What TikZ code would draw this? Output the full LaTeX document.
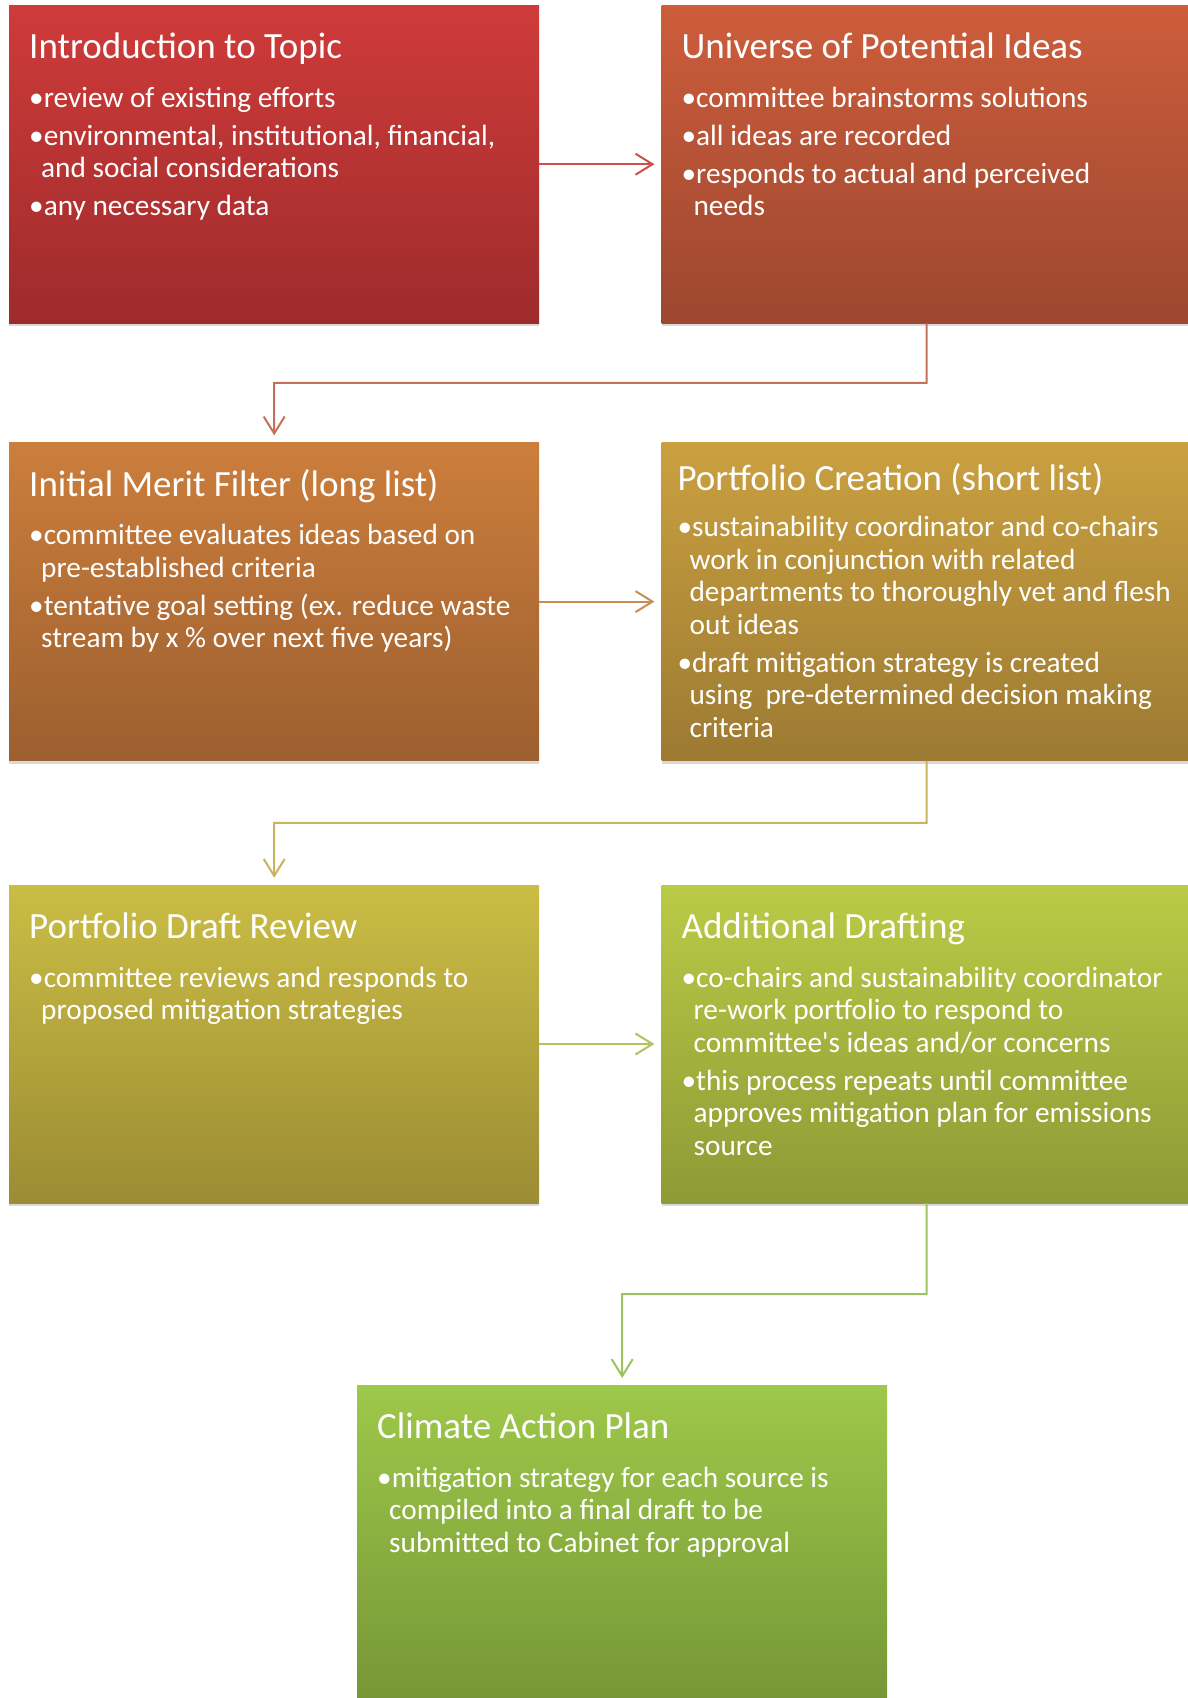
\documentclass[tikz,border=0pt]{standalone}
\usepackage{fontspec}
\setmainfont{Carlito}
\usepackage{tikz}
\usetikzlibrary{positioning,calc,shadows,arrows.meta}
\definecolor{introtop}{RGB}{207,59,58}
\definecolor{introbot}{RGB}{158,43,43}
\definecolor{unitop}{RGB}{205,93,59}
\definecolor{unibot}{RGB}{156,71,48}
\definecolor{merittop}{RGB}{204,126,60}
\definecolor{meritbot}{RGB}{156,95,47}
\definecolor{creationtop}{RGB}{202,160,64}
\definecolor{creationbot}{RGB}{156,122,50}
\definecolor{reviewtop}{RGB}{202,189,68}
\definecolor{reviewbot}{RGB}{156,140,52}
\definecolor{drafttop}{RGB}{186,203,70}
\definecolor{draftbot}{RGB}{141,154,54}
\definecolor{plantop}{RGB}{158,200,74}
\definecolor{planbot}{RGB}{118,150,54}
\definecolor{linkred}{RGB}{200,80,78}
\definecolor{linkrust}{RGB}{196,112,90}
\definecolor{linkorange}{RGB}{198,142,84}
\definecolor{linkgold}{RGB}{200,180,94}
\definecolor{linkolive}{RGB}{181,192,96}
\definecolor{linkgreen}{RGB}{156,195,93}

\newlength\stagepadx
\newlength\stagepady
\newlength\stagebody
\setlength\stagepadx{20pt}
\setlength\stagepady{53.5pt}
\setlength\stagebody{102pt}
\newcommand{\bul}{•}
\newcommand{\cont}{\hspace*{12pt}}
\newcommand{\stagetext}[2]{%
  \parbox[t][318pt][t]{530pt}{\offinterlineskip
    \hbox to 530pt{\hspace*{\stagepadx}\rule{0pt}{\stagepady}\smash{\fontsize{37}{44}\selectfont #1}\hss}%
    \vskip\dimexpr\stagebody-\stagepady-22.75pt\relax
    \hbox to 530pt{\hspace*{\stagepadx}\fontsize{29.3}{32.5}\selectfont\begin{tabular}[t]{@{}l@{}}#2\end{tabular}\hss}}}

\begin{document}
\begin{tikzpicture}[
            x=1pt, y=1pt,
            stage/.style={rectangle, minimum width=530pt, minimum height=318pt, inner sep=0pt, text=white, drop shadow={shadow xshift=0pt, shadow yshift=-3pt, opacity=0.3}},
            creationpad/.code={\setlength\stagepadx{16pt}\setlength\stagepady{47.5pt}\setlength\stagebody{94pt}},
            link/.style={-{Straight Barb[length=17pt,width=21pt]}, line width=2pt, shorten >=7pt}
        ]
        \useasboundingbox (0,0) rectangle (1187,-1698);
        
        \node[stage, anchor=north west, top color=introtop, bottom color=introbot] (intro) at (9,-5)
            {\stagetext{Introduction to Topic}{\bul review of existing efforts\\[5.5pt]
             \bul environmental, institutional, financial,\\ \cont and social considerations\\[5.5pt]
             \bul any necessary data}};
        \node[stage, right=122pt of intro, top color=unitop, bottom color=unibot] (universe)
            {\stagetext{Universe of Potential Ideas}{\bul committee brainstorms solutions\\[5.5pt]
             \bul all ideas are recorded\\[5.5pt]
             \bul responds to actual and perceived\\ \cont needs}};
        \node[stage, below=119pt of intro, top color=merittop, bottom color=meritbot] (merit)
            {\stagetext{Initial Merit Filter (long list)}{\bul committee evaluates ideas based on\\ \cont pre-established criteria\\[5.5pt]
             \bul tentative goal setting (ex. reduce waste\\ \cont stream by x \% over next five years)}};
        \node[stage, right=122pt of merit, creationpad, top color=creationtop, bottom color=creationbot] (creation)
            {\stagetext{Portfolio Creation (short list)}{\bul sustainability coordinator and co-chairs\\ \cont work in conjunction with related\\
             \cont departments to thoroughly vet and flesh\\ \cont out ideas\\[5.5pt]
             \bul draft mitigation strategy is created\\ \cont using\ \ pre-determined decision making\\ \cont criteria}};
        \node[stage, below=124pt of merit, top color=reviewtop, bottom color=reviewbot] (review)
            {\stagetext{Portfolio Draft Review}{\bul committee reviews and responds to\\ \cont proposed mitigation strategies}};
        \node[stage, right=122pt of review, top color=drafttop, bottom color=draftbot] (drafting)
            {\stagetext{Additional Drafting}{\bul co-chairs and sustainability coordinator\\ \cont re-work portfolio to respond to\\
             \cont committee\textquotesingle s ideas and/or concerns\\[5.5pt]
             \bul this process repeats until committee\\ \cont approves mitigation plan for emissions\\ \cont source}};
        \node[stage, anchor=north west, top color=plantop, bottom color=planbot] (plan) at (357,-1385)
            {\stagetext{Climate Action Plan}{\bul mitigation strategy for each source is\\ \cont compiled into a final draft to be\\
             \cont submitted to Cabinet for approval}};
        
        \draw[link, linkred] (intro) -- (universe);
        \draw[link, linkrust] (universe.south) -- ($(universe.south)!0.5!(universe.south |- merit.north)$) -| (merit.north);
        \draw[link, linkorange] (merit) -- (creation);
        \draw[link, linkgold] (creation.south) -- ($(creation.south)!0.5!(creation.south |- review.north)$) -| (review.north);
        \draw[link, linkolive] (review) -- (drafting);
        \draw[link, linkgreen] (drafting.south) -- ($(drafting.south)!0.5!(drafting.south |- plan.north)$) -| (plan.north);
        
        \end{tikzpicture}
\end{document}
